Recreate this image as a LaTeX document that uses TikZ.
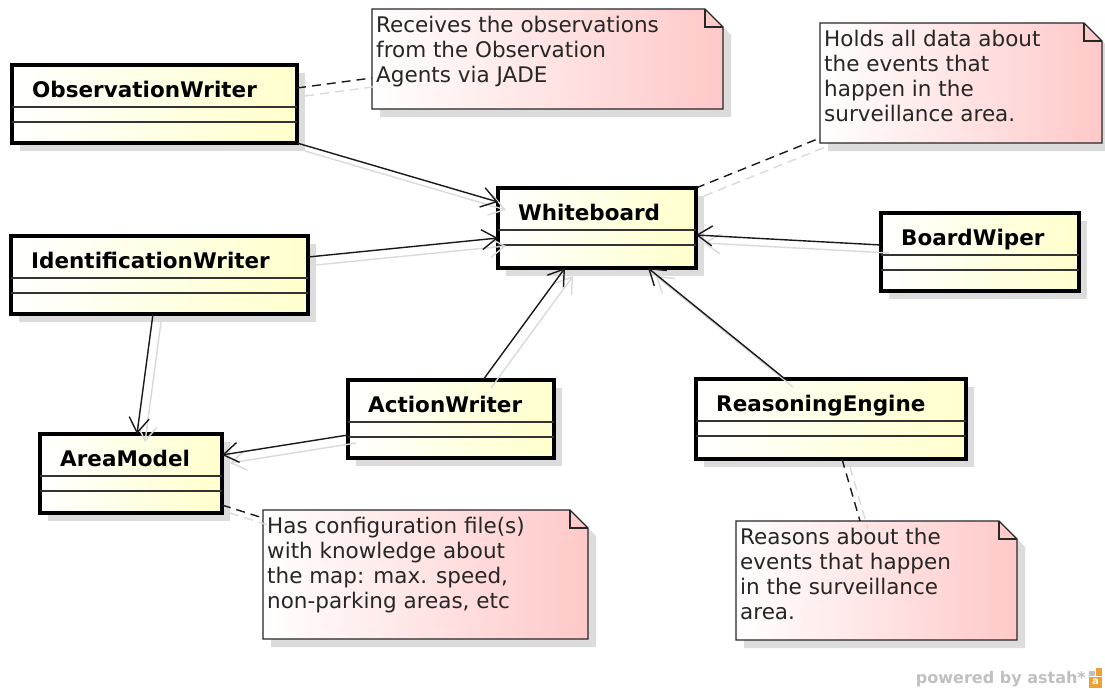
\documentclass[tikz,border=0pt]{standalone}
\usepackage{fontspec}
\setmainfont{DejaVu Sans}
\usetikzlibrary{arrows.meta}

\definecolor{classfill}{RGB}{255,255,204}
\definecolor{notefill}{RGB}{255,200,200}
\definecolor{shadowgray}{RGB}{220,220,220}
\definecolor{lineshadow}{RGB}{218,218,218}
\definecolor{astahgray}{RGB}{192,192,192}
\definecolor{astahorange}{RGB}{240,160,50}

\tikzset{
  umlclass/.style={draw=black, line width=3.5pt, left color=white, right color=classfill,
    inner sep=0pt, outer sep=0pt, anchor=north west},
  classname/.style={anchor=base west, inner sep=0pt, font=\bfseries\fontsize{21.5}{25}\selectfont},
  compline/.style={draw=black!80, line width=1.2pt},
  boxshadow/.style={fill=shadowgray},
  notenode/.style={inner sep=0pt, outer sep=0pt, anchor=north west},
  notebody/.style={draw=black!85, line width=1.3pt, left color=white, right color=notefill},
  notefold/.style={draw=black!85, line width=1.3pt},
  notetext/.style={anchor=north west, inner sep=0pt, align=left,
    font=\fontsize{21.5}{25}\selectfont, text=black!85},
  assoc/.style={draw=black!90, line width=1.4pt, -{Straight Barb[length=15pt,width=20pt]}},
  anchorline/.style={draw=black!90, line width=1.4pt, dash pattern=on 9pt off 6pt},
  linkshadow/.style={draw=lineshadow, transform canvas={shift={(8pt,-8pt)}}},
}

% class box: name, title, left, top, right, bottom
\newcommand\umlbox[6]{%
  \fill[boxshadow] (#3+8,#4+8) rectangle (#5+8,#6+8);
  \node[umlclass, minimum width={(#5-#3)*1pt}, minimum height={(#6-#4)*1pt}] (#1) at (#3,#4) {};
  \draw[compline] ([yshift=-42pt]#1.north west) -- ([yshift=-42pt]#1.north east);
  \draw[compline] ([yshift=-57pt]#1.north west) -- ([yshift=-57pt]#1.north east);
  \node[classname] (#1-name) at ([shift={(20pt,-32pt)}]#1.north west) {#2};
}

% note with folded corner: name, left, top, right, bottom, text
\newcommand\umlnote[6]{%
  \fill[boxshadow] (#2+8,#3+8) -- (#4+8-18,#3+8) -- (#4+8,#3+8+18) -- (#4+8,#5+8) -- (#2+8,#5+8) -- cycle;
  \path[notebody] (#2,#3) -- (#4-18,#3) -- (#4,#3+18) -- (#4,#5) -- (#2,#5) -- cycle;
  \draw[notefold] (#4-18,#3) -- (#4-18,#3+18) -- (#4,#3+18);
  \node[notenode, minimum width={(#4-#2)*1pt}, minimum height={(#5-#3)*1pt}] (#1) at (#2,#3) {};
  \node[notetext] (#1-text) at (#2+4,#3+7) {#6};
}

% connector with its drop shadow
\newcommand\umllink[3]{%
  \draw[#1, linkshadow] #2 -- #3;
  \draw[#1] #2 -- #3;
}

\begin{document}
\begin{tikzpicture}[x=1pt, y=-1pt]
  \fill[white] (0,0) rectangle (1105,688);
  \useasboundingbox (0,0) rectangle (1105,688);

  % classes
  \umlbox{ow}{ObservationWriter}{12}{65}{297}{143}
  \umlbox{iw}{IdentificationWriter}{11}{236}{308}{314}
  \umlbox{wb}{Whiteboard}{498}{188}{696}{268}
  \umlbox{bw}{BoardWiper}{881}{213}{1079}{291}
  \umlbox{aw}{ActionWriter}{348}{380}{554}{458}
  \umlbox{re}{ReasoningEngine}{696}{379}{966}{459}
  \umlbox{am}{AreaModel}{40}{434}{222}{513}

  % notes
  \umlnote{n1}{372}{9}{723}{109}{Receives the observations\\from the Observation\\Agents via JADE}
  \umlnote{n2}{820}{23}{1102}{143}{Holds all data about\\the events that\\happen in the\\surveillance area.}
  \umlnote{n3}{263}{510}{588}{639}{Has configuration file(s)\\with knowledge about\\the map: max. speed,\\non-parking areas, etc}
  \umlnote{n4}{736}{521}{1017}{640}{Reasons about the\\events that happen\\in the surveillance\\area.}

  % navigable associations
  \umllink{assoc}{(ow.south east)}{([yshift=-14pt]wb.north west)}
  \umllink{assoc}{([yshift=-21pt]iw.north east)}{([yshift=-50pt]wb.north west)}
  \umllink{assoc}{([yshift=-32pt]bw.north west)}{([yshift=-47pt]wb.north east)}
  \umllink{assoc}{([xshift=135pt]aw.north west)}{([xshift=67pt]wb.south west)}
  \umllink{assoc}{([xshift=89pt]re.north west)}{([xshift=150pt]wb.south west)}
  \umllink{assoc}{([xshift=142pt]iw.south west)}{([xshift=97pt]am.north west)}
  \umllink{assoc}{([yshift=-55pt]aw.north west)}{([yshift=-21pt]am.north east)}

  % note anchors
  \umllink{anchorline}{([yshift=-23pt]ow.north east)}{([yshift=-69pt]n1.north west)}
  \umllink{anchorline}{(wb.north east)}{([yshift=-115pt]n2.north west)}
  \umllink{anchorline}{([yshift=-71pt]am.north east)}{([yshift=-8pt]n3.north west)}
  \umllink{anchorline}{([xshift=146pt]re.south west)}{([xshift=124pt]n4.north west)}

  % tool credit
  \node[anchor=base east, inner sep=0pt, font=\bfseries\fontsize{16}{18}\selectfont,
    text=astahgray] (credit) at (1086,683) {powered by astah*};
  \fill[astahgray] (1089,671) rectangle (1095,676);
  \fill[astahorange] (1096,668) rectangle (1102,676);
  \fill[astahorange] (1089,677) rectangle (1102,688);
  \node[inner sep=0pt, font=\bfseries\fontsize{10}{10}\selectfont, text=white] (logo) at (1095.5,682) {a};
\end{tikzpicture}
\end{document}
